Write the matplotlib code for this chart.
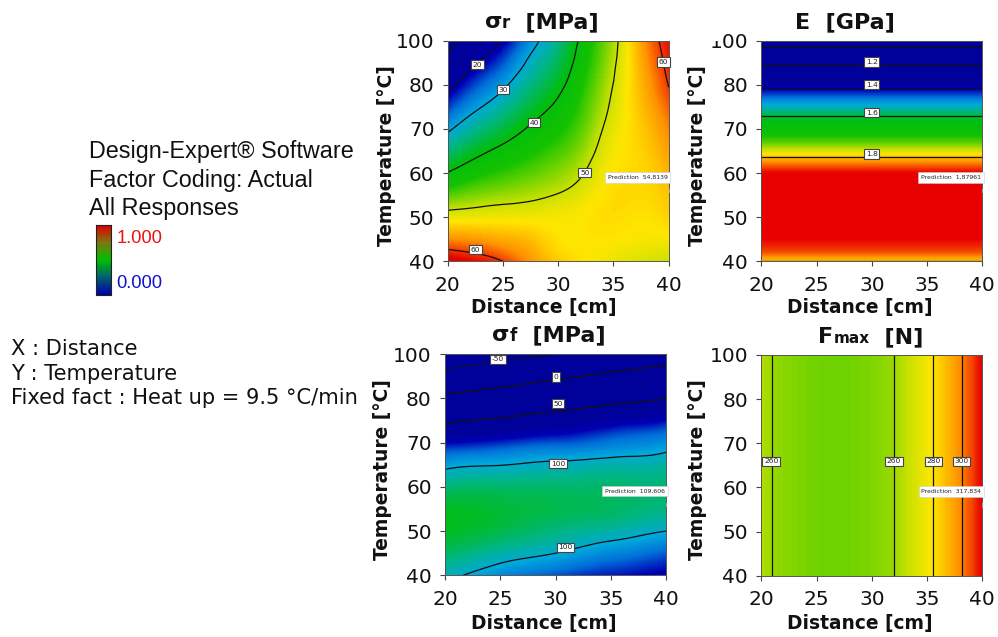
import numpy as np
import matplotlib
matplotlib.use("Agg")
import matplotlib.pyplot as plt
import matplotlib.tri as mtri
from matplotlib.colors import LinearSegmentedColormap
from matplotlib.patches import Rectangle

W, H = 998, 637

# ---------- data ----------
temp_ticks = [40, 50, 60, 70, 80, 90]
temp_tick_labels = ["40", "50", "60", "70", "80", "100"]
dist_ticks = [20, 25, 30, 35, 40]

# sigma_r
sr_x = [20, 22.5, 25, 27.5, 30, 32.5, 35, 37.5, 40]
sr_y = [40, 45, 50, 55, 60, 65, 70, 75, 80, 85, 90]
sr_z = [
    [63.0, 61.7, 60.0, 57.0, 54.5, 53.0, 51.8, 51.0, 50.2],
    [57.4, 56.9, 56.0, 55.0, 53.2, 53.0, 53.0, 52.5, 52.5],
    [51.8, 52.0, 52.2, 52.2, 52.5, 53.0, 53.5, 53.2, 54.0],
    [46.0, 47.5, 48.4, 49.2, 50.2, 51.8, 53.5, 53.6, 54.7],
    [40.2, 43.0, 44.8, 46.3, 47.9, 50.2, 53.0, 53.8, 55.6],
    [34.7, 38.5, 41.2, 43.4, 45.6, 48.6, 52.3, 54.0, 56.6],
    [29.1, 33.8, 37.3, 40.6, 43.3, 47.1, 51.6, 54.4, 57.7],
    [23.6, 29.0, 33.1, 37.5, 41.0, 45.8, 50.8, 54.9, 58.9],
    [18.0, 24.3, 29.0, 34.4, 38.7, 44.5, 50.1, 55.4, 60.1],
    [12.3, 19.5, 24.7, 31.2, 36.4, 43.3, 49.4, 55.9, 60.8],
    [6.7, 14.8, 20.2, 28.0, 34.2, 42.2, 48.8, 56.4, 61.5],
]
sr_levels = [10, 20, 30, 40, 50, 60]
sr_range = (17, 62)
sr_labels = [("20", 22.7, 84.6), ("30", 25.0, 78.9), ("40", 27.8, 71.4),
             ("50", 32.4, 60.1), ("60", 22.5, 42.6), ("60", 39.5, 85.2)]
sr_pred = "Prediction  54,8139"

# E
e_y = [40, 42, 45, 50, 55, 60, 62, 63.6, 65, 67, 70, 72.9, 75, 77, 79.3, 82, 84.4, 87, 88.9, 90]
e_z = [1.80, 1.85, 1.88, 1.90, 1.90, 1.88, 1.84, 1.80, 1.75, 1.70, 1.64, 1.60, 1.53, 1.47, 1.40,
       1.30, 1.20, 1.10, 1.00, 0.93]
e_x = [20, 40]
e_levels = [1.0, 1.2, 1.4, 1.6, 1.8]
e_range = (1.36, 1.88)
e_labels = [("1.2", 30, 85.2), ("1.4", 30, 80.0), ("1.6", 30, 73.7), ("1.8", 30, 64.3)]
e_pred = "Prediction  1,87961"

# sigma_f
sf_x = [20, 25, 30, 35, 40]
sf_y = [40, 45, 50, 55, 60, 65, 70, 75, 80, 85, 90]
sf_z = [
    [103, 94, 87, 82, 78],
    [112, 105, 100, 93.5, 88],
    [118, 114, 109, 105, 100],
    [118, 116, 114, 112, 109],
    [110, 111, 111, 111, 110],
    [97, 99.6, 102, 104, 106],
    [79, 83, 87, 91, 95],
    [45, 54, 63, 73, 80],
    [7, 18.5, 29, 40, 49],
    [-36, -21, -6, 7, 17],
    [-82, -66, -51, -35, -20],
]
sf_levels = [-50, 0, 50, 100]
sf_range = (70, 170)
sf_labels = [("-50", 24.8, 88.8), ("0", 30, 84.8), ("50", 30.2, 78.8), ("100", 30.2, 65.2), ("100", 30.9, 46.3)]
sf_pred = "Prediction  109,606"

# Fmax
fm_x = [20, 21, 22, 24, 26, 28, 30, 32, 33, 34, 35.57, 37, 38.13, 39, 40]
fm_z = [264, 259.7, 258, 255.5, 254, 254.5, 256.5, 260, 265, 271, 280, 291, 300, 308, 318]
fm_y = [40, 90]
fm_levels = [260, 280, 300]
fm_range = (125, 318)
fm_labels = [("260", 20.9, 65.9), ("260", 32.0, 65.9), ("280", 35.6, 65.9), ("300", 38.1, 65.9)]
fm_pred = "Prediction  317,834"

# legend
legend_lines = ["Design-Expert® Software", "Factor Coding: Actual", "All Responses"]
legend_hi, legend_lo = "1.000", "0.000"
bar_values = np.linspace(0, 1, 128).reshape(-1, 1)
factor_lines = ["X : Distance", "Y : Temperature", "Fixed fact : Heat up = 9.5 °C/min"]

# ---------- style ----------
cmap = LinearSegmentedColormap.from_list("de", [
    (0.00, "#00009a"), (0.10, "#0000b4"), (0.20, "#0070d8"), (0.29, "#00a8dc"),
    (0.38, "#00b48c"), (0.50, "#00be0c"), (0.60, "#14c200"), (0.66, "#60d000"), (0.73, "#c4e000"),
    (0.80, "#ffe600"), (0.90, "#ff9000"), (0.97, "#f02800"), (1.00, "#e60000")], N=512)
bar_cmap = LinearSegmentedColormap.from_list("bar", [
    (0.0, "#0000a8"), (0.25, "#006070"), (0.5, "#00be00"), (0.75, "#7a7a10"), (1.0, "#e00000")])

fig = plt.figure(figsize=(W / 100, H / 100), dpi=100, facecolor="white")
renderer = fig.canvas.get_renderer()


def ax_px(l, t, r, b):
    return fig.add_axes([l / W, 1 - b / H, (r - l) / W, (b - t) / H])


def rich_title(cx, baseline, parts):
    """Centre a run of (text, size) pieces sitting on one baseline (pixels)."""
    widths = []
    for s, size in parts:
        t = fig.text(0, 0, s, fontsize=size, fontweight="bold")
        widths.append(t.get_window_extent(renderer).width)
        t.remove()
    x = cx - sum(widths) / 2
    for (s, size), w in zip(parts, widths):
        fig.text(x / W, 1 - baseline / H, s, fontsize=size, fontweight="bold",
                 ha="left", va="baseline", color="#111111")
        x += w


def panel(box, x, y, z, rng, levels, labels, pred, title_parts, title_cx, title_base,
          ylab_dx, xlab_dx, xlab_dy, smooth):
    ax = ax_px(*box)
    z = np.asarray(z, float)
    fill = np.linspace(rng[0], rng[1], 220)
    if smooth:
        X, Y = np.meshgrid(x, y)
        tri = mtri.Triangulation(X.ravel(), Y.ravel())
        refiner = mtri.UniformTriRefiner(tri)
        tri_f, z_f = refiner.refine_field(z.ravel(), subdiv=3)
        ax.tricontourf(tri_f, z_f, levels=fill, cmap=cmap, extend="both", antialiased=False)
        ax.tricontour(tri_f, z_f, levels=levels, colors="#111111", linewidths=0.9)
    else:
        ax.contourf(x, y, z, levels=fill, cmap=cmap, extend="both", antialiased=False)
        ax.contour(x, y, z, levels=levels, colors="#111111", linewidths=0.9)
    for s, lx, ly in labels:
        ax.text(lx, ly, s, fontsize=5.4, ha="center", va="center", color="#222222", zorder=6,
                bbox=dict(boxstyle="square,pad=0.22", fc="white", ec="#444444", lw=0.8))
    ax.text(39.9, 59.05, pred, fontsize=4.4, ha="right", va="center", color="#222222", zorder=6,
            bbox=dict(boxstyle="square,pad=0.45", fc="white", ec="#cccccc", lw=0.4))
    ax.plot([40, 40], [55.6, 56.4], color="#999999", lw=0.8, clip_on=False, zorder=6)
    ax.set_xlim(20, 40)
    ax.set_ylim(40, 90)
    ax.set_xticks(dist_ticks)
    ax.set_yticks(temp_ticks)
    ax.set_yticklabels(temp_tick_labels)
    ax.tick_params(axis="x", pad=7)
    ax.tick_params(axis="y", pad=6)
    ax.tick_params(labelsize=14.5, length=3.5, width=0.8, color="#444444", labelcolor="#111111")
    for sp in ax.spines.values():
        sp.set_color("#555555")
        sp.set_linewidth(0.7)
    bw, bh = box[2] - box[0], box[3] - box[1]
    ax.set_xlabel("Distance [cm]", fontsize=13.4, fontweight="bold", color="#111111")
    ax.set_ylabel("Temperature [°C]", fontsize=13.4, fontweight="bold", color="#111111")
    ax.xaxis.set_label_coords(0.5 + xlab_dx / bw, -xlab_dy / bh)
    ax.xaxis.label.set_va("center")
    ax.yaxis.set_label_coords(ylab_dx / bw, 0.48)
    ax.yaxis.label.set_va("center")
    rich_title(title_cx, title_base, title_parts)
    return ax


panel((447.7, 40.7, 668.7, 261.3), sr_x, sr_y, sr_z, sr_range, sr_levels, sr_labels, sr_pred,
      [("σ", 16), ("r", 12), ("  [MPa]", 16)], 541.7, 28, -60.7, -14, 46, True)
panel((761.3, 40.7, 982.3, 261.3), e_x, e_y, np.column_stack([e_z, e_z]), e_range, e_levels, e_labels, e_pred,
      [("E  [GPa]", 16)], 845, 28, -64, -12, 46, False)
panel((445, 354, 666.3, 575.3), sf_x, sf_y, sf_z, sf_range, sf_levels, sf_labels, sf_pred,
      [("σ", 16), ("f", 12), ("  [MPa]", 16)], 549, 341, -62, -12, 48, True)
panel((761.3, 355, 982.3, 575.7), fm_x, fm_y, np.vstack([fm_z, fm_z]), fm_range, fm_levels, fm_labels, fm_pred,
      [("F", 16), ("max", 11), ("  [N]", 16)], 871, 343, -64, -12, 48, False)

# top of the "1" of the E panel's "100" is cut off in the reference
fig.add_artist(Rectangle((705 / W, 1 - 41 / H), 16 / W, 11 / H, transform=fig.transFigure,
                         fc="white", ec="none", zorder=20))

# legend text
for s, yb in zip(legend_lines, [158, 187, 215]):
    fig.text(89 / W, 1 - yb / H, s, family="Liberation Sans", fontsize=16.8, color="#111111",
             ha="left", va="baseline")
fig.text(116.5 / W, 1 - 243 / H, legend_hi, family="Liberation Sans", fontsize=13.2, color="#ee1111", va="baseline")
fig.text(116.5 / W, 1 - 287.5 / H, legend_lo, family="Liberation Sans", fontsize=13.2, color="#1111cc", va="baseline")
cax = ax_px(95.5, 225.5, 110.5, 294.5)
cax.pcolormesh([0, 1], np.linspace(0, 1, 129), bar_values, cmap=bar_cmap)
cax.set_xticks([])
cax.set_yticks([])
for sp in cax.spines.values():
    sp.set_linewidth(0.8)
    sp.set_color("#222222")

for s, yb in zip(factor_lines, [355, 380, 404]):
    fig.text(11 / W, 1 - yb / H, s, fontsize=15.1, color="#111111", ha="left", va="baseline")

fig.savefig("out.png", dpi=100, facecolor="white")
